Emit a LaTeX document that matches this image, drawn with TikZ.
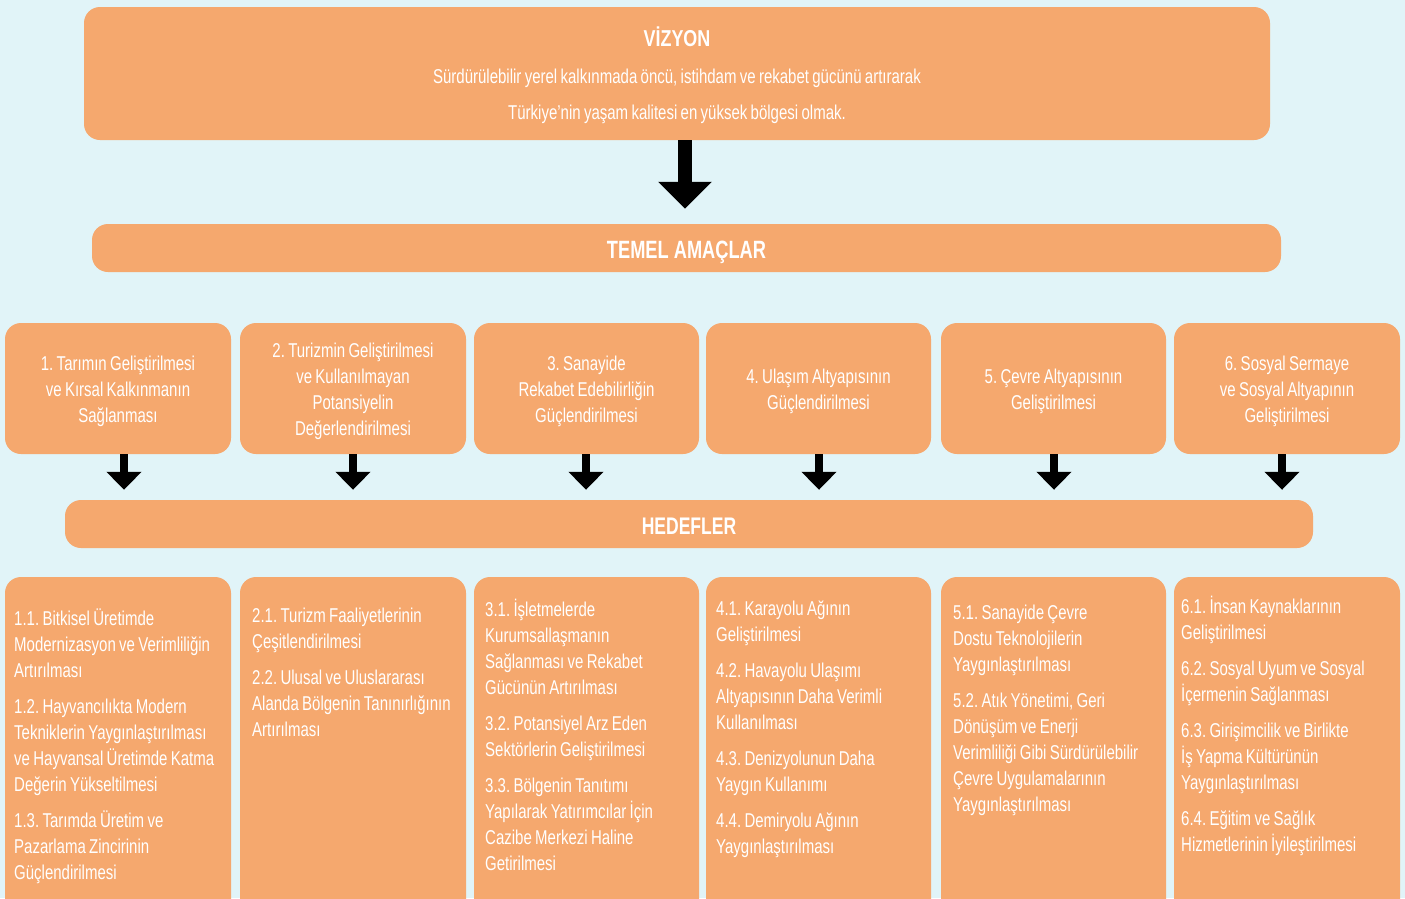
\documentclass[tikz,border=0pt]{standalone}
\usepackage{fontspec}
\setmainfont{Liberation Sans}[FakeStretch=0.75,WordSpace=0.8]
\newfontfamily\titA{Liberation Sans Bold}[FakeStretch=0.78]
\newfontfamily\titB{Liberation Sans Bold}[FakeStretch=0.73]
\usetikzlibrary{arrows.meta}
\definecolor{bgc}{RGB}{225,244,248}
\definecolor{boxc}{RGB}{245,168,110}
\frenchspacing
\tikzset{
  obox/.style={fill=boxc, rounded corners=16pt, inner sep=0pt, text=white},
  bodyfont/.style={font=\fontsize{20}{26}\selectfont\frenchspacing},
  midbox/.style={obox, minimum height=131pt},
  midtxt/.style={text=white, inner sep=0pt, bodyfont, align=center},
  lowbox/.style={obox, minimum height=343pt},
  ttxt/.style={text=white, inner sep=0pt, anchor=base},
  btxt/.style={text=white, inner sep=0pt, anchor=base west, align=flush left, text width=222pt, bodyfont},
  bigarr/.style={draw=black, line width=14pt, -{Triangle[width=52pt,length=27pt]}, shorten >=15pt},
  smarr/.style={draw=black, line width=8pt, -{Triangle[width=34pt,length=18pt]}, shorten >=10pt}
}
\begin{document}
\begin{tikzpicture}[x=1pt,y=-1pt]
\useasboundingbox (0,0) rectangle (1405,898);
\clip (0,0) rectangle (1405,898);
\fill[bgc] (0,0) rectangle (1405,898);

% Vision
\node[obox, minimum width=1186pt, minimum height=133pt] (v) at (677,73.5) {};
\node[ttxt] (vt) at (677,46.5) {\titA\fontsize{23}{26}\selectfont VİZYON};
\node[ttxt, bodyfont] (v1) at (677,83) {Sürdürülebilir yerel kalkınmada öncü, istihdam ve rekabet gücünü artırarak};
\node[ttxt, bodyfont] (v2) at (677,119) {Türkiye’nin yaşam kalitesi en yüksek bölgesi olmak.};

% Temel amaclar
\node[obox, minimum width=1189pt, minimum height=48pt] (tm) at (686.5,248) {};
\node[ttxt] (tmt) at (686.5,258) {\titB\fontsize{25}{26}\selectfont TEMEL AMAÇLAR};

\draw[bigarr] ([xshift=8pt]v.south) -- ([xshift=8pt]v.south |- tm.north);

% Middle boxes
\node[midbox, minimum width=226pt] (m1) at (118,388.5) {};
\node[midbox, minimum width=226pt] (m2) at (353,388.5) {};
\node[midbox, minimum width=225pt] (m3) at (586.5,388.5) {};
\node[midbox, minimum width=225pt] (m4) at (818.5,388.5) {};
\node[midbox, minimum width=225pt] (m5) at (1053.5,388.5) {};
\node[midbox, minimum width=226pt] (m6) at (1287,388.5) {};
\node[midtxt] (mt1) at ([yshift=-3pt]m1.center) {1. Tarımın Geliştirilmesi\\ve Kırsal Kalkınmanın\\Sağlanması};
\node[midtxt] (mt2) at ([yshift=-3pt]m2.center) {2. Turizmin Geliştirilmesi\\ve Kullanılmayan\\Potansiyelin\\Değerlendirilmesi};
\node[midtxt] (mt3) at ([yshift=-3pt]m3.center) {3. Sanayide\\Rekabet Edebilirliğin\\Güçlendirilmesi};
\node[midtxt] (mt4) at ([yshift=-3pt]m4.center) {4. Ulaşım Altyapısının\\Güçlendirilmesi};
\node[midtxt] (mt5) at ([yshift=-3pt]m5.center) {5. Çevre Altyapısının\\Geliştirilmesi};
\node[midtxt] (mt6) at ([yshift=-3pt]m6.center) {6. Sosyal Sermaye\\ve Sosyal Altyapının\\Geliştirilmesi};

% Hedefler
\node[obox, minimum width=1248pt, minimum height=48pt] (hd) at (689,524) {};
\node[ttxt] (hdt) at (689,534) {\titB\fontsize{24}{26}\selectfont HEDEFLER};

\draw[smarr] ([xshift=6pt]m1.south) -- ([xshift=6pt]m1.south |- hd.north);
\draw[smarr] (m2.south) -- (m2.south |- hd.north);
\draw[smarr] ([xshift=-0.5pt]m3.south) -- ([xshift=-0.5pt]m3.south |- hd.north);
\draw[smarr] ([xshift=0.5pt]m4.south) -- ([xshift=0.5pt]m4.south |- hd.north);
\draw[smarr] ([xshift=0.5pt]m5.south) -- ([xshift=0.5pt]m5.south |- hd.north);
\draw[smarr] ([xshift=-5pt]m6.south) -- ([xshift=-5pt]m6.south |- hd.north);

% Bottom boxes
\node[lowbox, minimum width=226pt] (b1) at (118,748.5) {};
\node[lowbox, minimum width=226pt] (b2) at (353,748.5) {};
\node[lowbox, minimum width=225pt] (b3) at (586.5,748.5) {};
\node[lowbox, minimum width=225pt] (b4) at (818.5,748.5) {};
\node[lowbox, minimum width=225pt] (b5) at (1053.5,748.5) {};
\node[lowbox, minimum width=226pt] (b6) at (1287,748.5) {};

\node[btxt] (t1) at (14,625) {1.1. Bitkisel Üretimde\\Modernizasyon ve Verimliliğin\\Artırılması\\[10pt]1.2. Hayvancılıkta Modern\\Tekniklerin Yaygınlaştırılması\\ve Hayvansal Üretimde Katma\\Değerin Yükseltilmesi\\[10pt]1.3. Tarımda Üretim ve\\Pazarlama Zincirinin\\Güçlendirilmesi};
\node[btxt] (t2) at (252,622) {2.1. Turizm Faaliyetlerinin\\Çeşitlendirilmesi\\[10pt]2.2. Ulusal ve Uluslararası\\Alanda Bölgenin Tanınırlığının\\Artırılması};
\node[btxt] (t3) at (485,616) {3.1. İşletmelerde\\Kurumsallaşmanın\\Sağlanması ve Rekabet\\Gücünün Artırılması\\[10pt]3.2. Potansiyel Arz Eden\\Sektörlerin Geliştirilmesi\\[10pt]3.3. Bölgenin Tanıtımı\\Yapılarak Yatırımcılar İçin\\Cazibe Merkezi Haline\\Getirilmesi};
\node[btxt] (t4) at (716,615) {4.1. Karayolu Ağının\\Geliştirilmesi\\[10pt]4.2. Havayolu Ulaşımı\\Altyapısının Daha Verimli\\Kullanılması\\[10pt]4.3. Denizyolunun Daha\\Yaygın Kullanımı\\[10pt]4.4. Demiryolu Ağının\\Yaygınlaştırılması};
\node[btxt] (t5) at (953,619) {5.1. Sanayide Çevre\\Dostu Teknolojilerin\\Yaygınlaştırılması\\[10pt]5.2. Atık Yönetimi, Geri\\Dönüşüm ve Enerji\\Verimliliği Gibi Sürdürülebilir\\Çevre Uygulamalarının\\Yaygınlaştırılması};
\node[btxt] (t6) at (1181,613) {6.1. İnsan Kaynaklarının\\Geliştirilmesi\\[10pt]6.2. Sosyal Uyum ve Sosyal\\İçermenin Sağlanması\\[10pt]6.3. Girişimcilik ve Birlikte\\İş Yapma Kültürünün\\Yaygınlaştırılması\\[10pt]6.4. Eğitim ve Sağlık\\Hizmetlerinin İyileştirilmesi};
\end{tikzpicture}
\end{document}
